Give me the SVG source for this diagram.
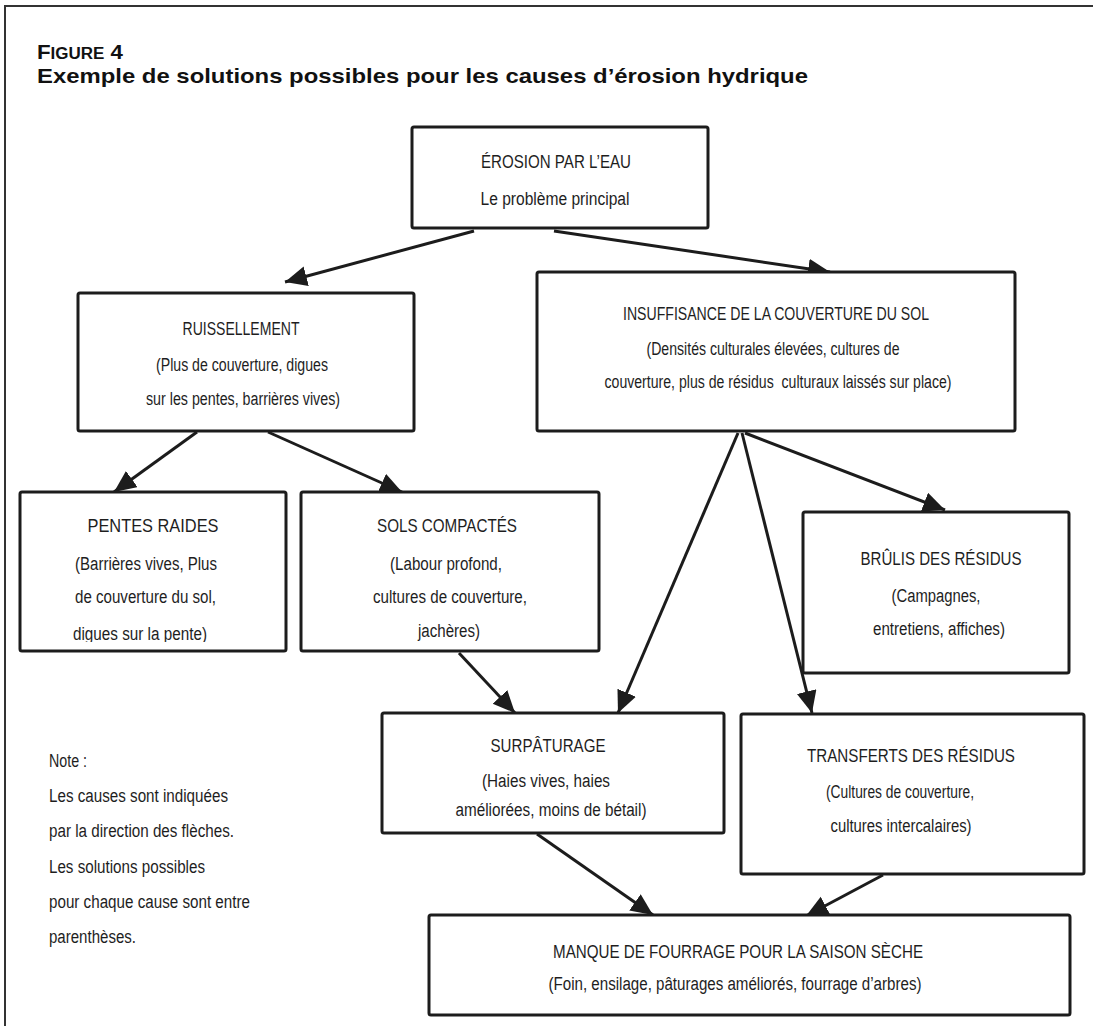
<svg xmlns="http://www.w3.org/2000/svg" width="1093" height="1026" viewBox="0 0 1093 1026">
  <style>
    .box { fill: #ffffff; stroke: #1c1c1c; stroke-width: 3; }
    .t { font-family: "Liberation Sans", Arial, sans-serif; font-size: 18px; fill: #1e1e1e; text-anchor: middle; }
    .ts { font-family: "Liberation Sans", Arial, sans-serif; font-size: 18px; fill: #1e1e1e; text-anchor: start; }
    .title { font-family: "Liberation Sans", Arial, sans-serif; font-weight: bold; fill: #111111; }
    .edge { fill: none; stroke: #1c1c1c; stroke-width: 3; marker-end: url(#ah); }
    .frame { fill: none; stroke: #333333; stroke-width: 2; }
  </style>
  <defs>
    <marker id="ah" markerUnits="userSpaceOnUse" markerWidth="24" markerHeight="22" refX="22" refY="10" orient="auto">
      <path d="M0,0 L22,10 L0,20 Z" fill="#1c1c1c"/>
    </marker>
    <clipPath id="clipPentes">
      <rect x="20" y="492" width="266" height="150"/>
    </clipPath>
  </defs>

  <rect width="1093" height="1026" fill="#ffffff"/>
  <!-- page frame: top and left rules -->
  <path class="frame" d="M5,1026 V6 H1093"/>

  <!-- heading -->
  <g id="heading">
    <text class="title" x="37" y="59" textLength="86" lengthAdjust="spacingAndGlyphs"><tspan font-size="21">F</tspan><tspan font-size="16">IGURE</tspan><tspan font-size="21"> 4</tspan></text>
    <text class="title" x="37" y="83" font-size="21" textLength="771" lengthAdjust="spacingAndGlyphs">Exemple de solutions possibles pour les causes d’érosion hydrique</text>
  </g>

  <!-- connectors -->
  <g id="connectors">
    <line class="edge" x1="474" y1="231" x2="285" y2="282"/>
    <line class="edge" x1="554" y1="231" x2="830" y2="272"/>
    <line class="edge" x1="197" y1="432" x2="114" y2="492"/>
    <line class="edge" x1="268" y1="432" x2="402" y2="492"/>
    <line class="edge" x1="459" y1="653" x2="515" y2="713"/>
    <line class="edge" x1="738" y1="433" x2="618" y2="713"/>
    <line class="edge" x1="742" y1="433" x2="812" y2="713"/>
    <line class="edge" x1="745" y1="433" x2="945" y2="510"/>
    <line class="edge" x1="537" y1="834" x2="653" y2="915"/>
    <line class="edge" x1="883" y1="875" x2="806" y2="916"/>
  </g>

  <g id="erosion">
    <rect class="box" x="412" y="127" width="296" height="101" rx="2"/>
    <text class="t" x="556" y="168" textLength="150" lengthAdjust="spacingAndGlyphs">ÉROSION PAR L’EAU</text>
    <text class="t" x="555" y="205" textLength="149" lengthAdjust="spacingAndGlyphs">Le problème principal</text>
  </g>

  <g id="ruissellement">
    <rect class="box" x="78" y="293" width="336" height="138" rx="2"/>
    <text class="t" x="241" y="335" textLength="117" lengthAdjust="spacingAndGlyphs">RUISSELLEMENT</text>
    <text class="t" x="242" y="371" textLength="172" lengthAdjust="spacingAndGlyphs">(Plus de couverture, digues</text>
    <text class="t" x="243" y="405" textLength="194" lengthAdjust="spacingAndGlyphs">sur les pentes, barrières vives)</text>
  </g>

  <g id="insuffisance">
    <rect class="box" x="537" y="272" width="478" height="159" rx="2"/>
    <text class="t" x="776" y="320" textLength="306" lengthAdjust="spacingAndGlyphs">INSUFFISANCE DE LA COUVERTURE DU SOL</text>
    <text class="t" x="773" y="355" textLength="253" lengthAdjust="spacingAndGlyphs">(Densités culturales élevées, cultures de</text>
    <text class="t" x="778" y="388" textLength="347" lengthAdjust="spacingAndGlyphs" xml:space="preserve">couverture, plus de résidus  culturaux laissés sur place)</text>
  </g>

  <g id="pentes-raides">
    <rect class="box" x="20" y="492" width="266" height="159" rx="2"/>
    <text class="t" x="153" y="532" textLength="131" lengthAdjust="spacingAndGlyphs">PENTES RAIDES</text>
    <text class="ts" x="75" y="570" textLength="142" lengthAdjust="spacingAndGlyphs">(Barrières vives, Plus</text>
    <text class="ts" x="75" y="603" textLength="141" lengthAdjust="spacingAndGlyphs">de couverture du sol,</text>
    <text class="ts" x="73" y="640" textLength="134" lengthAdjust="spacingAndGlyphs" clip-path="url(#clipPentes)">digues sur la pente)</text>
  </g>

  <g id="sols-compactes">
    <rect class="box" x="301" y="492" width="298" height="159" rx="2"/>
    <text class="t" x="447" y="532" textLength="140" lengthAdjust="spacingAndGlyphs">SOLS COMPACTÉS</text>
    <text class="t" x="446" y="570" textLength="112" lengthAdjust="spacingAndGlyphs">(Labour profond,</text>
    <text class="t" x="450" y="603" textLength="154" lengthAdjust="spacingAndGlyphs">cultures de couverture,</text>
    <text class="t" x="449" y="637" textLength="62" lengthAdjust="spacingAndGlyphs">jachères)</text>
  </g>

  <g id="brulis">
    <rect class="box" x="803" y="512" width="266" height="161" rx="2"/>
    <text class="t" x="941" y="565" textLength="161" lengthAdjust="spacingAndGlyphs">BRÛLIS DES RÉSIDUS</text>
    <text class="t" x="936" y="602" textLength="89" lengthAdjust="spacingAndGlyphs">(Campagnes,</text>
    <text class="t" x="939" y="635" textLength="132" lengthAdjust="spacingAndGlyphs">entretiens, affiches)</text>
  </g>

  <g id="surpaturage">
    <rect class="box" x="382" y="713" width="342" height="120" rx="2"/>
    <text class="t" x="548" y="752" textLength="115" lengthAdjust="spacingAndGlyphs">SURPÂTURAGE</text>
    <text class="t" x="546" y="787" textLength="128" lengthAdjust="spacingAndGlyphs">(Haies vives, haies</text>
    <text class="t" x="551" y="816" textLength="191" lengthAdjust="spacingAndGlyphs">améliorées, moins de bétail)</text>
  </g>

  <g id="transferts">
    <rect class="box" x="741" y="714" width="343" height="160" rx="2"/>
    <text class="t" x="911" y="762" textLength="208" lengthAdjust="spacingAndGlyphs">TRANSFERTS DES RÉSIDUS</text>
    <text class="t" x="900" y="798" textLength="148" lengthAdjust="spacingAndGlyphs">(Cultures de couverture,</text>
    <text class="t" x="901" y="832" textLength="141" lengthAdjust="spacingAndGlyphs">cultures intercalaires)</text>
  </g>

  <g id="manque-fourrage">
    <rect class="box" x="429" y="915" width="641" height="100" rx="2"/>
    <text class="t" x="738" y="958" textLength="370" lengthAdjust="spacingAndGlyphs">MANQUE DE FOURRAGE POUR LA SAISON SÈCHE</text>
    <text class="t" x="735" y="990" textLength="373" lengthAdjust="spacingAndGlyphs">(Foin, ensilage, pâturages améliorés, fourrage d’arbres)</text>
  </g>

  <g id="note">
    <text class="ts" x="49" y="767" textLength="38" lengthAdjust="spacingAndGlyphs">Note :</text>
    <text class="ts" x="49" y="802" textLength="179" lengthAdjust="spacingAndGlyphs">Les causes sont indiquées</text>
    <text class="ts" x="49" y="837" textLength="185" lengthAdjust="spacingAndGlyphs">par la direction des flèches.</text>
    <text class="ts" x="49" y="873" textLength="156" lengthAdjust="spacingAndGlyphs">Les solutions possibles</text>
    <text class="ts" x="49" y="908" textLength="201" lengthAdjust="spacingAndGlyphs">pour chaque cause sont entre</text>
    <text class="ts" x="49" y="943" textLength="87" lengthAdjust="spacingAndGlyphs">parenthèses.</text>
  </g>
</svg>
